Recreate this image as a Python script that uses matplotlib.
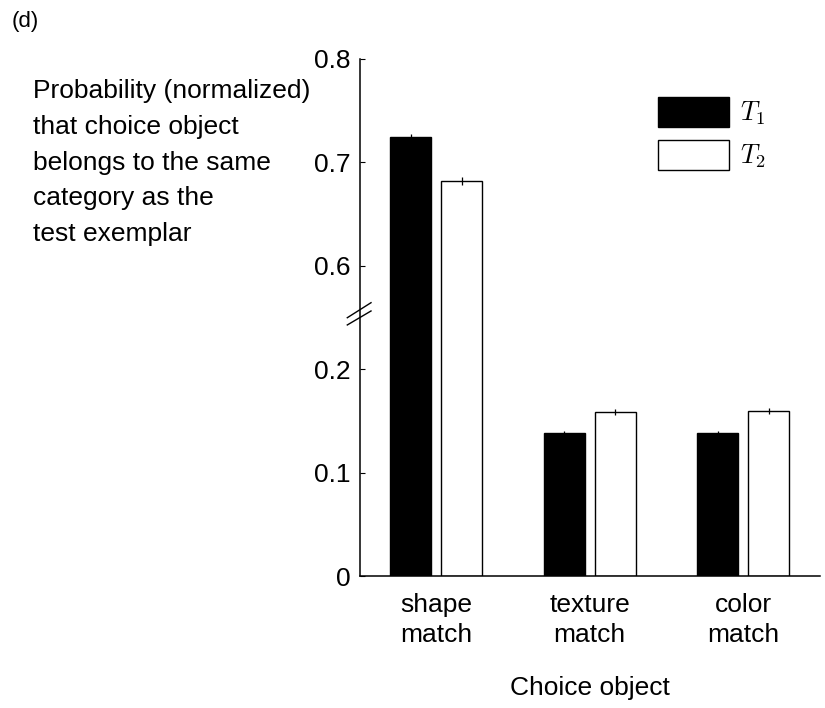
import numpy as np
import matplotlib
matplotlib.use("Agg")
import matplotlib.pyplot as plt

plt.rcParams['font.family'] = ['Liberation Sans', 'DejaVu Sans']
plt.rcParams['mathtext.fontset'] = 'cm'

categories = ["shape\nmatch", "texture\nmatch", "color\nmatch"]
t1_values = [0.7243, 0.1387, 0.1387]
t2_values = [0.682, 0.1588, 0.1594]
t1_err = [0.0027, 0.002, 0.002]
t2_err = [0.0037, 0.003, 0.003]
series_labels = [r"$T_1$", r"$T_2$"]
ytick_values = [0, 0.1, 0.2, 0.6, 0.7, 0.8]
ytick_labels = ["0", "0.1", "0.2", "0.6", "0.7", "0.8"]

BREAK_LO, BREAK_HI = 0.25, 0.55
GAP = BREAK_HI - BREAK_LO
FS = 19


def forward(v):
    v = np.asarray(v, dtype=float)
    return np.where(v <= BREAK_LO, v, np.where(v >= BREAK_HI, v - GAP, BREAK_LO))


def inverse(d):
    d = np.asarray(d, dtype=float)
    return np.where(d <= BREAK_LO, d, d + GAP)


fig = plt.figure(figsize=(8.25, 7.08), dpi=100)
ax = fig.add_axes([359.5 / 825, 1 - 576.3 / 708, (820 - 359.5) / 825, (576.3 - 58.5) / 708])
ax.set_yscale('function', functions=(forward, inverse))

x = np.arange(1, len(categories) + 1)
w = 0.27
off = 0.166
ax.bar(x - off, t1_values, width=w, color='black', edgecolor='black', linewidth=1.0,
       label=series_labels[0], zorder=2)
ax.bar(x + off, t2_values, width=w, color='white', edgecolor='black', linewidth=1.0,
       label=series_labels[1], zorder=2)
ax.errorbar(x - off, t1_values, yerr=t1_err, fmt='none', ecolor='black', elinewidth=0.9,
            capsize=0, zorder=3)
ax.errorbar(x + off, t2_values, yerr=t2_err, fmt='none', ecolor='black', elinewidth=0.9,
            capsize=0, zorder=3)

ax.set_xlim(0.5, 3.5)
ax.set_ylim(0, 0.8)
ax.set_yticks(ytick_values)
ax.set_yticklabels(ytick_labels)
ax.set_xticks(x)
ax.set_xticklabels(categories, linespacing=1.3)
ax.tick_params(axis='y', direction='in', length=3.4, width=0.8, labelsize=FS, pad=6.5)
ax.tick_params(axis='x', length=0, labelsize=FS, pad=12)
ax.minorticks_off()
for s in ['top', 'right']:
    ax.spines[s].set_visible(False)
for s in ['left', 'bottom']:
    ax.spines[s].set_linewidth(1.1)

ax.set_xlabel("Choice object", fontsize=FS, labelpad=21)

# break marks on the y axis
for y0, y1 in [(0.4994, 0.5284), (0.4854, 0.5124)]:
    ax.plot([-0.0265, 0.025], [y0, y1], transform=ax.transAxes, color='black',
            linewidth=1.0, clip_on=False, zorder=5)

leg = ax.legend(loc='upper left', bbox_to_anchor=(658.3 / 825, 1 - 97.3 / 708),
                bbox_transform=fig.transFigure, frameon=False, fontsize=FS,
                handlelength=2.69, handleheight=1.36, labelspacing=0.47,
                handletextpad=0.4, borderpad=0, borderaxespad=0)

fig.text(33 / 825, 1 - 79 / 708,
         "Probability (normalized)\nthat choice object\nbelongs to the same\ncategory as the\ntest exemplar",
         ha='left', va='top', fontsize=FS, linespacing=1.62,
         transform=fig.transFigure)
fig.text(12 / 825, 1 - 21 / 708, "(d)", ha='left', va='center', fontsize=16)

fig.savefig("out.png", dpi=100)
